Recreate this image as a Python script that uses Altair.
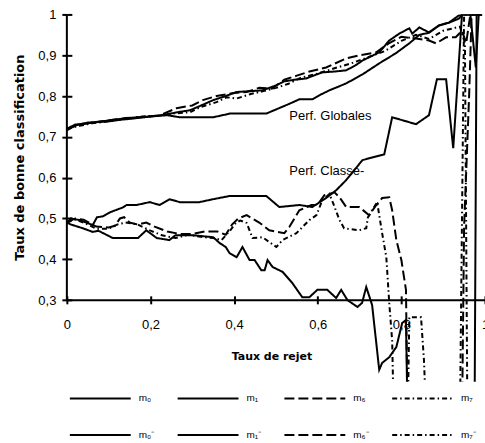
import altair as alt
import pandas as pd

# ---------------- data ----------------
series_names = ["m₀", "m₁", "m₆", "m₇", "m₀⁻", "m₁⁻", "m₆⁻", "m₇⁻"]
dash_styles = [[1, 0], [1, 0], [10, 4], [5, 3, 1.5, 3],
               [1, 0], [1, 0], [10, 4], [5, 3, 1.5, 3]]

# Perf. Globales
m0_x = [0, 0.02, 0.05, 0.08, 0.1, 0.13, 0.16, 0.2, 0.24, 0.27, 0.3, 0.35, 0.39, 0.43, 0.477,
        0.5, 0.53, 0.556, 0.587, 0.61, 0.628, 0.668, 0.707, 0.747, 0.787, 0.82, 0.843, 0.866,
        0.89, 0.914, 0.938, 0.945, 0.993]
m0_y = [0.716, 0.728, 0.735, 0.737, 0.738, 0.742, 0.745, 0.75, 0.753, 0.748, 0.748, 0.748, 0.757,
        0.757, 0.757, 0.767, 0.78, 0.792, 0.792, 0.805, 0.814, 0.831, 0.853, 0.88, 0.905, 0.93,
        0.95, 0.955, 0.973, 0.98, 0.99, 1.0, 1.0]

m1_x = [0, 0.02, 0.05, 0.08, 0.11, 0.14, 0.17, 0.2, 0.24, 0.262, 0.294, 0.317, 0.35, 0.38, 0.406,
        0.44, 0.468, 0.5, 0.52, 0.545, 0.572, 0.59, 0.611, 0.64, 0.668, 0.69, 0.707, 0.747, 0.771,
        0.795, 0.819, 0.826, 0.843, 0.866, 0.89, 0.914, 0.938, 0.945, 0.965, 0.978, 0.985, 0.993]
m1_y = [0.72, 0.73, 0.733, 0.737, 0.742, 0.745, 0.748, 0.75, 0.755, 0.76, 0.765, 0.775, 0.79, 0.8,
        0.81, 0.812, 0.814, 0.826, 0.836, 0.84, 0.843, 0.85, 0.858, 0.86, 0.863, 0.875, 0.887,
        0.907, 0.936, 0.953, 0.966, 0.953, 0.968, 0.956, 0.973, 0.98, 0.998, 1.0, 1.0, 0.87,
        1.0, 1.0]

m6_x = [0, 0.03, 0.06, 0.1, 0.14, 0.18, 0.22, 0.262, 0.3, 0.325, 0.358, 0.396, 0.43, 0.46, 0.49,
        0.52, 0.55, 0.58, 0.62, 0.668, 0.7, 0.74, 0.771, 0.8, 0.835, 0.866, 0.883, 0.907, 0.93,
        0.945, 0.955, 0.965, 0.993]
m6_y = [0.72, 0.73, 0.735, 0.74, 0.746, 0.748, 0.752, 0.77, 0.777, 0.79, 0.8, 0.807, 0.81, 0.82,
        0.818, 0.84, 0.85, 0.86, 0.87, 0.892, 0.9, 0.907, 0.93, 0.945, 0.941, 0.936, 0.929,
        0.944, 0.944, 0.96, 0.93, 1.0, 1.0]

m7_x = [0, 0.03, 0.06, 0.1, 0.14, 0.18, 0.22, 0.25, 0.294, 0.317, 0.358, 0.382, 0.406, 0.44,
        0.47, 0.5, 0.53, 0.56, 0.6, 0.64, 0.68, 0.72, 0.76, 0.8, 0.835, 0.866, 0.9, 0.94, 0.952,
        0.958]
m7_y = [0.72, 0.727, 0.733, 0.738, 0.744, 0.75, 0.752, 0.757, 0.76, 0.772, 0.785, 0.797, 0.794,
        0.805, 0.812, 0.82, 0.83, 0.845, 0.855, 0.868, 0.88, 0.895, 0.91, 0.935, 0.95, 0.94,
        0.96, 0.97, 0.93, 0.0]

# Perf. Classe-
m0m_x = [0, 0.01, 0.03, 0.062, 0.072, 0.086, 0.103, 0.134, 0.143, 0.167, 0.198, 0.222, 0.246,
         0.27, 0.317, 0.349, 0.389, 0.437, 0.477, 0.508, 0.556, 0.587, 0.62, 0.644, 0.668, 0.707,
         0.759, 0.778, 0.835, 0.866, 0.885, 0.907, 0.924, 0.945, 0.993]
m0m_y = [0.49, 0.5, 0.496, 0.484, 0.503, 0.505, 0.515, 0.527, 0.533, 0.533, 0.54, 0.533, 0.547,
         0.54, 0.54, 0.547, 0.555, 0.555, 0.555, 0.528, 0.533, 0.528, 0.55, 0.569, 0.594, 0.643,
         0.657, 0.748, 0.731, 0.753, 0.841, 0.841, 0.672, 1.0, 1.0]

m1m_x = [0, 0.01, 0.038, 0.062, 0.075, 0.11, 0.14, 0.17, 0.19, 0.215, 0.245, 0.26, 0.3, 0.35,
         0.365, 0.38, 0.389, 0.406, 0.42, 0.437, 0.449, 0.465, 0.473, 0.48, 0.492, 0.516, 0.539,
         0.563, 0.58, 0.599, 0.623, 0.644, 0.656, 0.671, 0.695, 0.706, 0.716, 0.73, 0.747, 0.754,
         0.771, 0.788, 0.802, 0.811, 0.815, 0.975, 0.98, 0.993]
m1m_y = [0.49, 0.485, 0.476, 0.467, 0.47, 0.452, 0.452, 0.452, 0.471, 0.452, 0.447, 0.459, 0.459,
         0.454, 0.44, 0.43, 0.415, 0.405, 0.43, 0.398, 0.398, 0.373, 0.373, 0.398, 0.381, 0.369,
         0.342, 0.307, 0.307, 0.325, 0.325, 0.305, 0.325, 0.3, 0.283, 0.293, 0.332, 0.288, 0.129,
         0.146, 0.16, 0.185, 0.244, 0.251, 0.0, 0.0, 1.0, 1.0]

m6m_x = [0, 0.02, 0.04, 0.07, 0.1, 0.115, 0.127, 0.137, 0.15, 0.17, 0.19, 0.21, 0.24, 0.27, 0.3,
         0.33, 0.36, 0.38, 0.395, 0.41, 0.43, 0.46, 0.484, 0.52, 0.532, 0.556, 0.585, 0.599,
         0.616, 0.64, 0.652, 0.668, 0.699, 0.723, 0.74, 0.754, 0.771, 0.778, 0.788, 0.8, 0.811,
         0.815, 0.945, 0.95, 0.962, 0.968, 0.993]
m6m_y = [0.49, 0.5, 0.497, 0.48, 0.478, 0.482, 0.5, 0.503, 0.49, 0.485, 0.49, 0.48, 0.468, 0.462,
         0.462, 0.468, 0.468, 0.46, 0.485, 0.5, 0.508, 0.49, 0.471, 0.464, 0.479, 0.52, 0.533,
         0.533, 0.557, 0.564, 0.552, 0.528, 0.528, 0.508, 0.533, 0.55, 0.552, 0.52, 0.447, 0.398,
         0.325, 0.0, 0.0, 0.48, 0.8, 1.0, 1.0]

m7m_x = [0, 0.02, 0.04, 0.07, 0.1, 0.12, 0.14, 0.17, 0.2, 0.23, 0.26, 0.29, 0.32, 0.35, 0.37,
         0.39, 0.405, 0.415, 0.43, 0.444, 0.468, 0.501, 0.516, 0.549, 0.58, 0.597, 0.611, 0.628,
         0.637, 0.652, 0.663, 0.699, 0.716, 0.72, 0.742, 0.754, 0.764, 0.771, 0.778, 0.782, 0.815,
         0.819, 0.847, 0.854, 0.86, 0.94, 0.95, 0.993]
m7m_y = [0.49, 0.497, 0.49, 0.475, 0.475, 0.485, 0.49, 0.485, 0.47, 0.458, 0.452, 0.46, 0.455,
         0.452, 0.447, 0.47, 0.49, 0.495, 0.489, 0.452, 0.454, 0.43, 0.447, 0.464, 0.496, 0.508,
         0.545, 0.56, 0.537, 0.496, 0.476, 0.471, 0.476, 0.503, 0.54, 0.464, 0.405, 0.293, 0.2,
         0.0, 0.0, 0.258, 0.258, 0.153, 0.0, 0.0, 1.0, 1.0]

annot_text = ["Perf. Globales", "Perf. Classe-"]
annot_x = [0.532, 0.532]
annot_y = [0.75, 0.616]

y_ticks = [0.3, 0.4, 0.5, 0.6, 0.7, 0.8, 0.9, 1.0]
x_ticks = [0, 0.2, 0.4, 0.6, 0.8, 1.0]

# ---------------- build table ----------------
all_x = [m0_x, m1_x, m6_x, m7_x, m0m_x, m1m_x, m6m_x, m7m_x]
all_y = [m0_y, m1_y, m6_y, m7_y, m0m_y, m1m_y, m6m_y, m7m_y]
rows = []
for name, xs, ys in zip(series_names, all_x, all_y):
    for i, (a, b) in enumerate(zip(xs, ys)):
        rows.append({"serie": name, "x": a, "y": b, "i": i})
df = pd.DataFrame(rows)

annot = pd.DataFrame({"t": annot_text, "x": annot_x, "y": annot_y})
axis_df = pd.DataFrame({"x": [0.0], "y": [0.3], "y2": [1.0]})

X_SCALE = alt.Scale(domain=[0, 1], nice=False, zero=False)
Y_SCALE = alt.Scale(domain=[0.1, 1], nice=False, zero=False)

label_expr = ("datum.value == 0 ? '0' : datum.value == 1 ? '1' : "
              "replace(format(datum.value, '.1f'), '.', ',')")

x_main = alt.Axis(values=x_ticks, labelExpr=label_expr, orient="bottom", offset=-82,
                  domain=True, domainColor="black", domainWidth=2,
                  ticks=True, tickColor="black", tickWidth=2, tickSize=4,
                  labelFont="Liberation Sans", labelFontSize=13, labelColor="black",
                  labelPadding=15, labelFlush=False, labelOverlap=False, grid=False,
                  title="Taux de rejet", titleFont="DejaVu Sans", titleFontSize=11,
                  titleFontWeight="bold", titleColor="black", titleX=205, titleY=60,
                  titleAlign="center", titleBaseline="alphabetic")
y_main = alt.Axis(values=y_ticks, labelExpr=label_expr, orient="left",
                  domain=False, ticks=True, tickColor="black", tickWidth=2, tickSize=5,
                  labelFont="Liberation Sans", labelFontSize=13, labelColor="black",
                  labelPadding=6, labelFlush=False, labelOverlap=False, grid=False,
                  title="Taux de bonne classification", titleFont="DejaVu Sans",
                  titleFontSize=13, titleFontWeight="bold", titleColor="black",
                  titleX=-47, titleY=143, titleAlign="center", titleBaseline="middle")

x_inner = alt.Axis(values=x_ticks, orient="bottom", offset=-86, domain=False, labels=False,
                   ticks=True, tickColor="black", tickWidth=2, tickSize=4, grid=False, title=None)
y_inner = alt.Axis(values=y_ticks, orient="left", offset=-5, domain=False, labels=False,
                   ticks=True, tickColor="black", tickWidth=2, tickSize=5, grid=False, title=None)

lines = alt.Chart(df).mark_line(color="black", strokeWidth=2, clip=True).encode(
    x=alt.X("x:Q", scale=X_SCALE, axis=x_main),
    y=alt.Y("y:Q", scale=Y_SCALE, axis=y_main),
    strokeDash=alt.StrokeDash(
        "serie:N",
        scale=alt.Scale(domain=series_names, range=dash_styles),
        legend=alt.Legend(title=None, orient="none", legendX=2, legendY=353, columns=4,
                          direction="horizontal",
                          symbolType="stroke", symbolSize=3720, symbolStrokeWidth=2,
                          symbolStrokeColor="black", labelFont="Liberation Sans",
                          labelFontSize=10, labelColor="black", labelOffset=7,
                          columnPadding=19, rowPadding=-25),
    ),
    detail="serie:N",
    order="i:Q",
)

yline = alt.Chart(axis_df).mark_rule(color="black", strokeWidth=2).encode(
    x=alt.X("x:Q", scale=X_SCALE, axis=x_inner),
    y=alt.Y("y:Q", scale=Y_SCALE, axis=y_inner),
    y2="y2:Q",
)

texts = alt.Chart(annot).mark_text(align="left", baseline="middle", font="Liberation Sans",
                                   fontSize=13, color="black").encode(
    x=alt.X("x:Q", scale=X_SCALE, axis=None),
    y=alt.Y("y:Q", scale=Y_SCALE, axis=None),
    text="t:N",
)

chart = alt.layer(lines, yline, texts).resolve_axis(
    x="independent", y="independent"
).properties(
    width=419, height=368,
    autosize=alt.AutoSizeParams(type="none"),
    padding={"left": 67, "top": 14, "right": 0, "bottom": 61},
).configure_view(stroke=None)

chart.save("out.html", embed_options={"renderer": "svg", "actions": False})
